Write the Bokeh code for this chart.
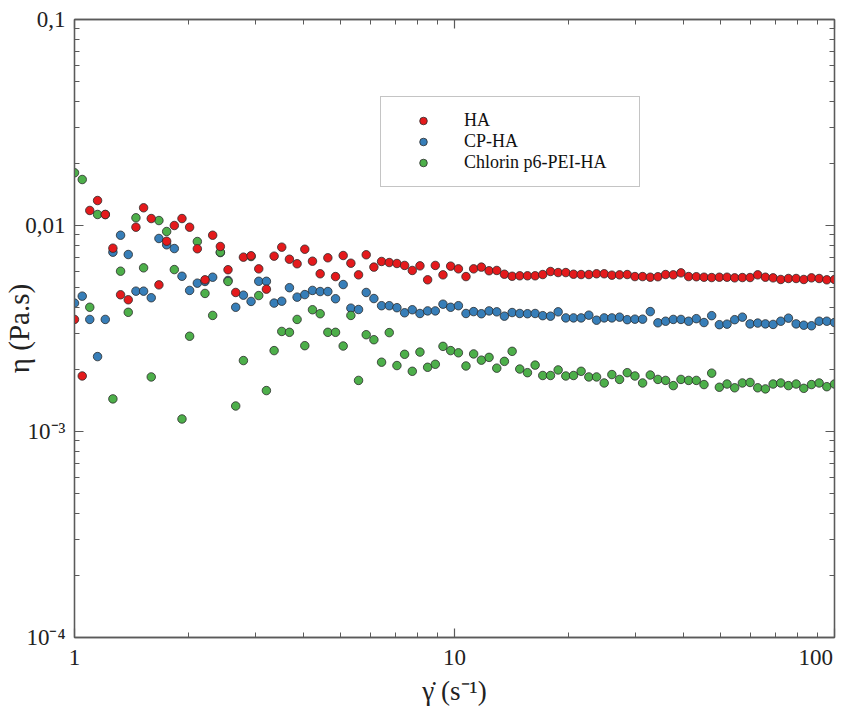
import math
from bokeh.plotting import figure
from bokeh.models import (Range1d, LogAxis, FixedTicker, CustomJSTickFormatter,
                          Legend, LegendItem)
from bokeh.embed import file_html
from bokeh.resources import INLINE

# ---------------- data ----------------
shear_rate = [1.000, 1.048, 1.097, 1.150, 1.205, 1.262, 1.322, 1.385, 1.451, 1.520,
              1.592, 1.668, 1.748, 1.831, 1.918, 2.009, 2.105, 2.205, 2.310, 2.420,
              2.535, 2.656, 2.783, 2.915, 3.054, 3.199, 3.352, 3.511, 3.678, 3.853,
              4.037, 4.229, 4.431, 4.642, 4.863, 5.094, 5.337, 5.591, 5.857, 6.136,
              6.428, 6.734, 7.055, 7.391, 7.743, 8.111, 8.498, 8.902, 9.326, 9.770,
              10.24, 10.72, 11.23, 11.77, 12.33, 12.92, 13.53, 14.18, 14.85, 15.56,
              16.30, 17.07, 17.89, 18.74, 19.63, 20.57, 21.54, 22.57, 23.65, 24.77,
              25.95, 27.19, 28.48, 29.84, 31.26, 32.75, 34.30, 35.94, 37.65, 39.44,
              41.32, 43.29, 45.35, 47.51, 49.77, 52.14, 54.62, 57.22, 59.95, 62.80,
              65.79, 68.93, 72.21, 75.65, 79.25, 83.02, 86.98, 91.12, 95.45, 100.0]

# viscosities in mPa.s
eta_ha_mpas = [3.50, 1.86, 11.83, 13.22, 11.31, 7.76, 4.61, 4.36, 9.81, 12.19,
               10.81, 5.15, 8.39, 10.0, 10.81, 9.81, 7.71, 5.45, 8.97, 7.91,
               6.10, 4.73, 7.02, 7.13, 6.16, 4.91, 7.10, 7.85, 6.86, 6.52,
               7.67, 6.71, 5.83, 6.97, 5.65, 7.15, 6.56, 5.76, 7.21, 6.28,
               6.69, 6.61, 6.54, 6.40, 6.05, 6.37, 5.45, 6.40, 5.76, 6.35,
               6.16, 5.65, 6.16, 6.28, 6.03, 6.05, 5.80, 5.67, 5.70, 5.70,
               5.70, 5.78, 5.98, 5.91, 5.91, 5.80, 5.78, 5.78, 5.83, 5.83,
               5.74, 5.76, 5.78, 5.65, 5.65, 5.61, 5.64, 5.78, 5.76, 5.89,
               5.65, 5.64, 5.61, 5.59, 5.61, 5.61, 5.57, 5.59, 5.59, 5.76,
               5.61, 5.57, 5.47, 5.53, 5.53, 5.47, 5.57, 5.53, 5.45, 5.47]

eta_cp_ha_mpas = [4.20, 4.54, 3.50, 2.31, 3.50, 7.42, 8.97, 7.23, 4.80, 4.80,
                  4.46, 8.65, 8.06, 7.73, 5.67, 4.84, 5.25, 5.35, 5.61, 7.39,
                  5.41, 4.01, 4.59, 4.28, 5.36, 5.36, 4.20, 4.29, 4.99, 4.49,
                  4.62, 4.84, 4.78, 4.78, 4.41, 5.17, 3.97, 3.91, 4.73, 4.42,
                  4.08, 4.08, 3.99, 3.77, 3.90, 3.74, 3.85, 3.85, 4.15, 4.01,
                  4.08, 3.74, 3.82, 3.73, 3.85, 3.81, 3.63, 3.78, 3.74, 3.73,
                  3.74, 3.65, 3.63, 3.81, 3.56, 3.56, 3.56, 3.67, 3.47, 3.56,
                  3.56, 3.59, 3.49, 3.51, 3.51, 3.82, 3.37, 3.43, 3.50, 3.50,
                  3.43, 3.53, 3.38, 3.65, 3.30, 3.32, 3.49, 3.59, 3.33, 3.36,
                  3.33, 3.31, 3.43, 3.55, 3.33, 3.28, 3.26, 3.43, 3.43, 3.38]

eta_chlorin_mpas = [18.03, 16.72, 4.01, 11.31, 11.3, 1.44, 6.00, 3.79, 10.90, 6.23,
                    1.84, 10.57, 9.35, 6.11, 1.15, 2.90, 8.36, 4.68, 3.66, 7.42,
                    5.35, 1.33, 2.21, 7.07, 4.57, 1.58, 2.47, 3.06, 3.03, 3.50,
                    2.61, 3.90, 3.73, 3.03, 3.03, 2.60, 3.66, 1.77, 2.95, 2.79,
                    2.17, 3.02, 2.09, 2.37, 1.96, 2.43, 2.05, 2.12, 2.59, 2.47,
                    2.41, 2.08, 2.38, 2.22, 2.29, 2.03, 2.19, 2.45, 2.01, 1.93,
                    2.10, 1.87, 1.87, 1.99, 1.86, 1.87, 1.96, 1.84, 1.84, 1.72,
                    1.89, 1.79, 1.93, 1.86, 1.72, 1.88, 1.79, 1.77, 1.67, 1.79,
                    1.77, 1.77, 1.69, 1.92, 1.64, 1.70, 1.63, 1.72, 1.73, 1.63,
                    1.61, 1.70, 1.72, 1.67, 1.70, 1.62, 1.69, 1.72, 1.65, 1.70]

series_names = ["HA", "CP-HA", "Chlorin p6-PEI-HA"]

X_TICKS = [1, 10, 100]
X_TICK_LABELS = ["1", "10", "100\u2007"]
Y_TICKS = [1e-4, 1e-3, 1e-2, 1e-1]
Y_TICK_LABELS = ["10\u207b\u2074", "10\u207b\u00b3", "0,01", "0,1"]

X_LABEL = "\u03b3\u0307 (s\u207b\u00b9)"
Y_LABEL = "\u03b7 (Pa.s)"

eta_ha = [v * 1e-3 for v in eta_ha_mpas]
eta_cp = [v * 1e-3 for v in eta_cp_ha_mpas]
eta_chl = [v * 1e-3 for v in eta_chlorin_mpas]

# ---------------- styling ----------------
FONT = "Liberation Serif"
AX_COL = "#5a5a5a"
TXT_COL = "#222222"
RED, BLUE, GREEN = "#e41a1c", "#377eb8", "#4daf4a"

p = figure(frame_width=760, frame_height=618,
           x_axis_type="log", y_axis_type="log",
           x_range=Range1d(1, 100), y_range=Range1d(1e-4, 0.1),
           output_backend="svg", toolbar_location=None,
           min_border_left=74, min_border_right=10, min_border_top=19,
           min_border_bottom=69, background_fill_color="white",
           border_fill_color="white")
p.grid.visible = False
p.outline_line_color = AX_COL
p.outline_line_width = 1.3

def minor_list(lo_exp, hi_exp):
    out = []
    for e in range(lo_exp, hi_exp):
        for m in range(2, 10):
            out.append(m * 10.0 ** e)
    return out

fmt_code = """
for (let i = 0; i < tvals.length; i++) {
  if (Math.abs(Math.log10(tvals[i]) - Math.log10(tick)) < 1e-6) return tlabels[i];
}
return "";
"""
x_fmt = CustomJSTickFormatter(args=dict(tvals=X_TICKS, tlabels=X_TICK_LABELS), code=fmt_code)
y_fmt = CustomJSTickFormatter(args=dict(tvals=Y_TICKS, tlabels=Y_TICK_LABELS), code=fmt_code)

def style_axis(ax, labels=True, title_size="26px"):
    ax.axis_line_color = AX_COL
    ax.axis_line_width = 1.3
    ax.major_tick_line_color = AX_COL
    ax.minor_tick_line_color = AX_COL
    ax.major_tick_line_width = 1.2
    ax.minor_tick_line_width = 1.0
    ax.major_tick_in = 9
    ax.major_tick_out = 0
    ax.minor_tick_in = 5
    ax.minor_tick_out = 0
    if labels:
        ax.major_label_text_font = FONT
        ax.major_label_text_font_size = "23px"
        ax.major_label_text_color = TXT_COL
        ax.axis_label_text_font = FONT
        ax.axis_label_text_font_size = title_size
        ax.axis_label_text_font_style = "normal"
        ax.axis_label_text_color = TXT_COL
    else:
        ax.major_label_text_font_size = "0px"
        ax.major_label_standoff = 0

xa = p.xaxis[0]
xa.ticker = FixedTicker(ticks=X_TICKS, minor_ticks=minor_list(0, 2))
xa.formatter = x_fmt
xa.major_label_standoff = 7
xa.axis_label = X_LABEL
xa.axis_label_standoff = 3
style_axis(xa, title_size="27px")

ya = p.yaxis[0]
ya.ticker = FixedTicker(ticks=Y_TICKS, minor_ticks=minor_list(-4, -1))
ya.formatter = y_fmt
ya.major_label_standoff = 9
ya.axis_label = Y_LABEL
ya.axis_label_standoff = -13
style_axis(ya, title_size="29px")

top = LogAxis(ticker=FixedTicker(ticks=X_TICKS, minor_ticks=minor_list(0, 2)),
              formatter=CustomJSTickFormatter(code="return '';"))
style_axis(top, labels=False)
p.add_layout(top, "above")
right = LogAxis(ticker=FixedTicker(ticks=Y_TICKS, minor_ticks=minor_list(-4, -1)),
                formatter=CustomJSTickFormatter(code="return '';"))
style_axis(right, labels=False)
p.add_layout(right, "right")

# ---------------- data marks ----------------
r_cp = p.scatter(shear_rate, eta_cp, size=8.5, fill_color=BLUE, line_color="#2b2b2b", line_width=0.8)
r_chl = p.scatter(shear_rate, eta_chl, size=8.5, fill_color=GREEN, line_color="#2b2b2b", line_width=0.8)
r_ha = p.scatter(shear_rate, eta_ha, size=8.5, fill_color=RED, line_color="#2b2b2b", line_width=0.8)

legend = Legend(items=[LegendItem(label=series_names[0], renderers=[r_ha]),
                       LegendItem(label=series_names[1], renderers=[r_cp]),
                       LegendItem(label=series_names[2], renderers=[r_chl])],
                location=(306, 450), margin=0, padding=13, spacing=0,
                glyph_width=58, glyph_height=19, label_height=19,
                label_standoff=12, label_width=162,
                label_text_font=FONT, label_text_font_size="18px",
                label_text_color="#111111",
                border_line_color="#8a8a8a", border_line_width=1,
                background_fill_color="white", background_fill_alpha=1.0)
p.add_layout(legend)

open("out.html", "w").write(file_html(p, INLINE))
